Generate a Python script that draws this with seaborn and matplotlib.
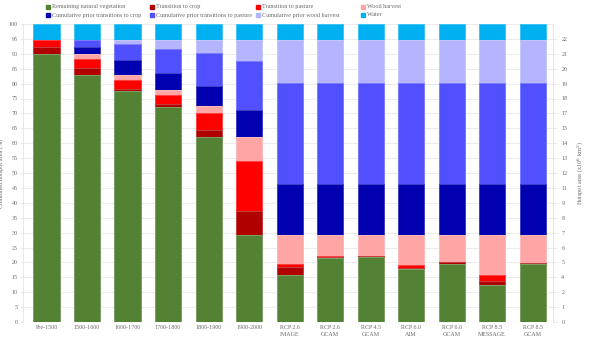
import numpy as np
import pandas as pd
import matplotlib
matplotlib.use("Agg")
import matplotlib.pyplot as plt
from matplotlib.colors import to_rgb
import seaborn as sns

categories = ["Pre-1500", "1500-1600", "1600-1700", "1700-1800", "1800-1900", "1900-2000",
              "RCP 2.6\nIMAGE", "RCP 2.6\nGCAM", "RCP 4.5\nGCAM", "RCP 6.0\nAIM",
              "RCP 6.0\nGCAM", "RCP 8.5\nMESSAGE", "RCP 8.5\nGCAM"]
natural = [89.9, 82.9, 77.6, 72.3, 62.0, 29.1, 15.8, 21.6, 21.7, 17.7, 19.6, 12.4, 19.4]
to_crop = [2.5, 2.3, 0.6, 0.9, 2.4, 8.1, 2.8, 0.2, 0.3, 0.3, 0.5, 1.4, 0.4]
to_pasture = [2.2, 2.9, 3.0, 2.9, 5.6, 16.8, 0.9, 0.3, 0.0, 1.1, 0.0, 2.0, 0.0]
wood = [0.0, 1.8, 1.7, 1.6, 2.5, 8.0, 9.6, 7.0, 7.1, 10.0, 9.0, 13.3, 9.3]
cum_crop = [0.0, 2.5, 5.0, 5.8, 6.7, 9.1, 17.2, 17.2, 17.2, 17.2, 17.2, 17.2, 17.2]
cum_pasture = [0.0, 2.2, 5.3, 8.1, 11.0, 16.6, 33.8, 33.8, 33.8, 33.8, 33.8, 33.8, 33.8]
cum_wood = [0.0, 0.0, 1.4, 3.0, 4.4, 6.9, 14.5, 14.5, 14.5, 14.5, 14.5, 14.5, 14.5]
water = [5.4] * 13

series_names = ["Remaining natural vegetation", "Transition to crop", "Transition to pasture",
                "Wood harvest", "Cumulative prior transitions to crop",
                "Cumulative prior transitions to pasture", "Cumulative prior wood harvest", "Water"]
series_vals = [natural, to_crop, to_pasture, wood, cum_crop, cum_pasture, cum_wood, water]
colors = ["#548235", "#B00000", "#FF0000", "#FFA5A5", "#0000B0", "#5050FF", "#B4B4FF", "#00B0F0"]

right_labels = ["0", "1", "2", "4", "5", "6", "7", "8", "9", "11", "12", "13", "14", "15",
                "17", "18", "19", "20", "21", "22"]

sns.set_theme(style="white")
plt.rcParams["font.family"] = ["Liberation Serif"]
tc = "#6a6a6a"

fig = plt.figure(figsize=(6.0, 3.43), dpi=100)
ax = fig.add_axes([23 / 600, 21 / 343, 530 / 600, 298 / 343])

df = pd.DataFrame({"cat": categories})
cum = np.zeros(len(categories))
cums = []
for v in series_vals:
    cum = cum + np.array(v)
    cums.append(cum.copy())


def lighten(c, f=0.3):
    r = np.array(to_rgb(c))
    return tuple(r + (1 - r) * f)


for i in range(len(series_vals) - 1, -1, -1):
    df["y"] = cums[i]
    sns.barplot(data=df, x="cat", y="y", order=categories, color=colors[i],
                saturation=1, width=0.645, edgecolor=lighten(colors[i], 0.25),
                linewidth=0.7, ax=ax, zorder=3)

fs = 4.3
ax.set_xlim(-0.58, 12.5)
ax.set_ylim(0, 100)
ax.set_yticks(np.arange(0, 101, 5))
ax.set_yticklabels([str(v) for v in range(0, 101, 5)], fontsize=fs, color=tc)
ax.set_xticks(range(len(categories)))
ax.set_xticklabels(categories, fontsize=fs, color=tc, linespacing=1.4)
ax.set_xlabel("")
ax.set_ylabel("Combined hotspot area (%)", fontsize=fs + 0.2, color=tc)
ax.yaxis.set_label_coords(-18.5 / 530, 0.5)
ax.grid(axis="y", color="#e8e8e8", linewidth=0.6, zorder=0)
ax.set_axisbelow(True)
for s in ["top", "bottom"]:
    ax.spines[s].set_visible(False)
for s in ["left", "right"]:
    ax.spines[s].set_color("#e4e4e4")
    ax.spines[s].set_linewidth(0.6)
ax.tick_params(axis="y", length=2, width=0.5, color="#dddddd", pad=2)
ax.tick_params(axis="x", length=0, pad=2.5)

ax2 = ax.twinx()
ax2.set_ylim(0, 100)
ax2.set_yticks(np.arange(0, 96, 5))
ax2.set_yticklabels(right_labels, fontsize=fs, color=tc)
ax2.tick_params(axis="y", length=3, width=0.5, color="#dddddd", pad=3)
for s in ["top", "bottom", "left"]:
    ax2.spines[s].set_visible(False)
ax2.spines["right"].set_color("#e4e4e4")
ax2.spines["right"].set_linewidth(0.6)
ax2.set_ylabel("Hotspot area (x10$^6$ km$^2$)", fontsize=fs + 0.2, color=tc, rotation=90)
ax2.yaxis.set_label_coords(1 + 22 / 530, 0.5)
ax2.grid(False)

# legend (two rows of four, fixed column spacing)
col_x = [48, 152, 258, 363]
row_y = [6.5, 15]
for k, (name, c) in enumerate(zip(series_names, colors)):
    r, col = divmod(k, 4)
    x = col_x[col] / 600
    y = 1 - row_y[r] / 343
    fig.add_artist(plt.Line2D([x], [y], marker="s", markersize=2.3, color=c,
                              markeredgecolor=c, linestyle="none",
                              transform=fig.transFigure))
    fig.text(x + 4 / 600, y, name, fontsize=fs + 0.1, color=tc, va="center", ha="left")

fig.savefig("out.png", dpi=100)
